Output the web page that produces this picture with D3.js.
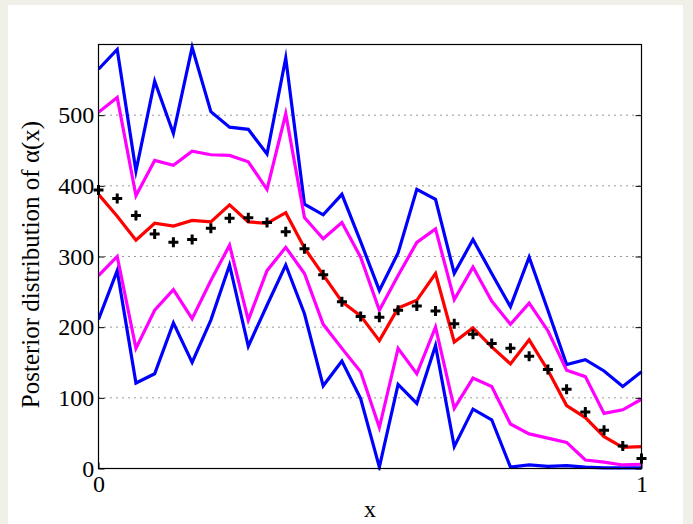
<!DOCTYPE html>
<html>
<head>
<meta charset="utf-8">
<script src="https://cdn.jsdelivr.net/npm/d3@7"></script>
<style>
  html, body { margin: 0; padding: 0; background: #f0efe8; }
  svg { display: block; }
</style>
</head>
<body>
<svg id="chart" width="693" height="524"></svg>
<script>
// Grid of x positions: 30 equally spaced points on [0, 1]
const nPoints = 30;
const xs = d3.range(nPoints).map(i => i / (nPoints - 1));

// Posterior summaries of alpha(x)
const upper95 = [565, 593, 421, 548, 474, 596, 505, 483, 480, 445, 581, 374, 359, 388, 321, 252, 305, 395, 381, 276, 324, 276, 229, 299, 224, 147, 154, 138, 116, 137];
const upper50 = [504, 525, 386, 436, 429, 449, 444, 443, 434, 395, 502, 355, 325, 348, 299, 224, 273, 320, 339, 239, 285, 237, 204, 234, 195, 139, 130, 78, 83, 98];
const median  = [388, 357, 323, 347, 343, 351, 349, 373, 349, 347, 362, 312, 274, 236, 216, 181, 227, 238, 276, 179, 199, 172, 148, 182, 139, 89, 72, 45, 30, 31];
const lower50 = [273, 300, 170, 224, 253, 212, 266, 316, 210, 280, 313, 276, 204, 170, 137, 58, 170, 134, 200, 85, 128, 116, 63, 49, 43, 37, 12, 9, 5, 6];
const lower95 = [211, 280, 121, 134, 206, 150, 210, 288, 173, 231, 288, 219, 117, 152, 99, 2, 119, 92, 174, 31, 84, 69, 2, 5, 3, 4, 2, 1, 1, 1];
const truth   = [394, 382, 358, 332, 320, 324, 340, 354, 355, 348, 335, 311, 274, 236, 215, 214, 224, 230, 223, 205, 190, 177, 170, 159, 140, 112, 80, 54, 32, 14];

const yTicks = [0, 100, 200, 300, 400, 500];
const xTicks = [0, 1];

const svg = d3.select("#chart");
const W = 693, H = 524;

// White figure panel on the grey window
svg.append("rect").attr("x", 8).attr("y", 5).attr("width", 675).attr("height", H - 5).attr("fill", "#ffffff");

const plot = { left: 98.5, right: 641.5, top: 44.5, bottom: 468.5 };
const x = d3.scaleLinear().domain([0, 1]).range([plot.left, plot.right]);
const y = d3.scaleLinear().domain([0, 600]).range([plot.bottom, plot.top]);

const serif = "'Liberation Serif', 'DejaVu Serif', serif";

// Dotted horizontal grid lines
svg.append("g")
  .selectAll("line")
  .data(yTicks.filter(t => t > 0))
  .join("line")
  .attr("x1", plot.left).attr("x2", plot.right)
  .attr("y1", d => y(d)).attr("y2", d => y(d))
  .attr("stroke", "#333")
  .attr("stroke-width", 1)
  .attr("stroke-dasharray", "1,5");

svg.append("clipPath").attr("id", "plotclip")
  .append("rect")
  .attr("x", plot.left).attr("y", plot.top - 4)
  .attr("width", plot.right - plot.left + 2).attr("height", plot.bottom - plot.top + 6);

const lineGen = d3.line().x((d, i) => x(xs[i])).y(d => y(d));

const series = [
  { values: upper95, color: "#0000ff" },
  { values: lower95, color: "#0000ff" },
  { values: upper50, color: "#ff00ff" },
  { values: lower50, color: "#ff00ff" },
  { values: median,  color: "#ff0000" }
];

const linesG = svg.append("g").attr("clip-path", "url(#plotclip)");
linesG.selectAll("path")
  .data(series)
  .join("path")
  .attr("d", d => lineGen(d.values))
  .attr("fill", "none")
  .attr("stroke", d => d.color)
  .attr("stroke-width", 3.2)
  .attr("stroke-linejoin", "miter")
  .attr("stroke-miterlimit", 10);

// True values shown as plus markers
const plusSize = 5;
svg.append("g")
  .selectAll("path")
  .data(truth)
  .join("path")
  .attr("d", (d, i) => {
    const cx = x(xs[i]), cy = y(d);
    return `M${cx - plusSize},${cy}H${cx + plusSize}M${cx},${cy - plusSize}V${cy + plusSize}`;
  })
  .attr("stroke", "#000")
  .attr("stroke-width", 3);

// Axis box
svg.append("rect")
  .attr("x", plot.left).attr("y", plot.top)
  .attr("width", plot.right - plot.left).attr("height", plot.bottom - plot.top)
  .attr("fill", "none").attr("stroke", "#000").attr("stroke-width", 1.2);

// Y axis (ticks drawn inward) and mirrored right-side ticks
const yAxis = d3.axisLeft(y).tickValues(yTicks).tickSize(-6).tickPadding(3).tickFormat(d3.format("d"));
const yG = svg.append("g").attr("transform", `translate(${plot.left},0)`).call(yAxis);
yG.select(".domain").remove();
yG.selectAll("text").attr("font-family", serif).attr("font-size", 24).attr("fill", "#000").attr("dx", "-0.05em");

const yRight = d3.axisRight(y).tickValues(yTicks).tickSize(-6).tickFormat("");
const yR = svg.append("g").attr("transform", `translate(${plot.right},0)`).call(yRight);
yR.select(".domain").remove();

// X axis
const xAxis = d3.axisBottom(x).tickValues(xTicks).tickSize(-6).tickPadding(6).tickFormat(d3.format("d"));
const xG = svg.append("g").attr("transform", `translate(0,${plot.bottom})`).call(xAxis);
xG.select(".domain").remove();
xG.selectAll("text").attr("font-family", serif).attr("font-size", 24).attr("fill", "#000");

// Axis titles
svg.append("text")
  .attr("x", (plot.left + plot.right) / 2).attr("y", 517)
  .attr("text-anchor", "middle")
  .attr("font-family", serif).attr("font-size", 24)
  .text("x");

svg.append("text")
  .attr("transform", `translate(39,${(plot.top + plot.bottom) / 2 + 8}) rotate(-90)`)
  .attr("text-anchor", "middle")
  .attr("font-family", serif).attr("font-size", 25)
  .text("Posterior distribution of α(x)");
</script>
</body>
</html>
